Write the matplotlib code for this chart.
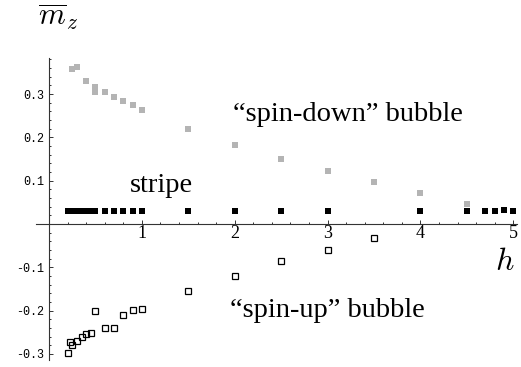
import matplotlib
matplotlib.use("Agg")
import matplotlib.pyplot as plt
from matplotlib.ticker import MultipleLocator, FixedLocator

# "spin-down" bubble (grey filled squares)
h_down = [0.25, 0.3, 0.4, 0.5, 0.5, 0.6, 0.7, 0.8, 0.9, 1.0, 1.5, 2.0, 2.5, 3.0, 3.5, 4.0, 4.5]
m_down = [0.359, 0.363, 0.330, 0.317, 0.306, 0.305, 0.293, 0.285, 0.275, 0.263,
          0.219, 0.182, 0.150, 0.122, 0.096, 0.072, 0.046]

# stripe (black filled squares)
h_stripe = [0.2, 0.25, 0.3, 0.35, 0.4, 0.45, 0.5, 0.6, 0.7, 0.8, 0.9, 1.0,
            1.5, 2.0, 2.5, 3.0, 4.0, 4.5, 4.7, 4.8, 4.9, 5.0]
m_stripe = [0.029] * 20 + [0.032, 0.029]

# "spin-up" bubble (open squares)
h_up = [0.2, 0.225, 0.25, 0.3, 0.35, 0.4, 0.45, 0.5, 0.6, 0.7, 0.8, 0.9, 1.0,
        1.5, 2.0, 2.5, 3.0, 3.5]
m_up = [-0.297, -0.273, -0.279, -0.271, -0.261, -0.255, -0.251, -0.200, -0.240,
        -0.240, -0.211, -0.198, -0.196, -0.154, -0.119, -0.086, -0.059, -0.033]

x_ticks = [1, 2, 3, 4, 5]
y_ticks = [-0.3, -0.2, -0.1, 0.1, 0.2, 0.3]

plt.rcParams["mathtext.fontset"] = "cm"

fig = plt.figure(figsize=(5.21, 3.67), dpi=100)
ax = fig.add_axes([36 / 521, 7 / 367, 481 / 521, 302 / 367])

ax.plot(h_down, m_down, "s", color="#b4b4b4", markersize=5, markeredgewidth=0)
ax.plot(h_stripe, m_stripe, "s", color="black", markersize=4.4, markeredgewidth=0)
ax.plot(h_up, m_up, "s", markerfacecolor="none", markeredgecolor="black",
        markersize=4.6, markeredgewidth=0.9)

ax.set_xlim(-0.14, 5.04)
ax.set_ylim(-0.3141, 0.3834)

# axes through the origin, Mathematica style
ax.spines["left"].set_position(("data", 0))
ax.spines["bottom"].set_position(("data", 0))
ax.spines["top"].set_visible(False)
ax.spines["right"].set_visible(False)
for s in ("left", "bottom"):
    ax.spines[s].set_linewidth(0.8)
    ax.spines[s].set_color("#333333")

ax.xaxis.set_major_locator(FixedLocator(x_ticks))
ax.xaxis.set_minor_locator(MultipleLocator(0.2))
ax.yaxis.set_major_locator(FixedLocator(y_ticks))
ax.yaxis.set_minor_locator(MultipleLocator(0.02))
ax.set_xticklabels([str(t) for t in x_ticks], family="Liberation Serif", fontsize=13)
ax.set_yticklabels([f"{t:.1f}" for t in y_ticks], family="Liberation Mono", fontsize=8.5)

ax.tick_params(which="both", direction="in", color="#333333", width=0.7)
ax.tick_params(which="major", length=2.6)
ax.tick_params(which="minor", length=1.6)
ax.tick_params(axis="x", which="major", pad=1)
ax.tick_params(axis="y", which="major", pad=3.5)

ax.text(0.872, 0.073, "stripe", family="Liberation Serif", fontsize=20.5, va="baseline")
ax.text(1.98, 0.237, "\u201cspin-down\u201d bubble", family="Liberation Serif",
        fontsize=20.5, va="baseline")
ax.text(1.948, -0.214, "\u201cspin-up\u201d bubble", family="Liberation Serif",
        fontsize=20.5, va="baseline")

fig.text(38 / 521, 1 - 25 / 367, r"$\overline{m}_z$", fontsize=22, va="baseline")
fig.text(495 / 521, 1 - 270 / 367, r"$h$", fontsize=23, va="baseline")

fig.savefig("out.png", dpi=100)
